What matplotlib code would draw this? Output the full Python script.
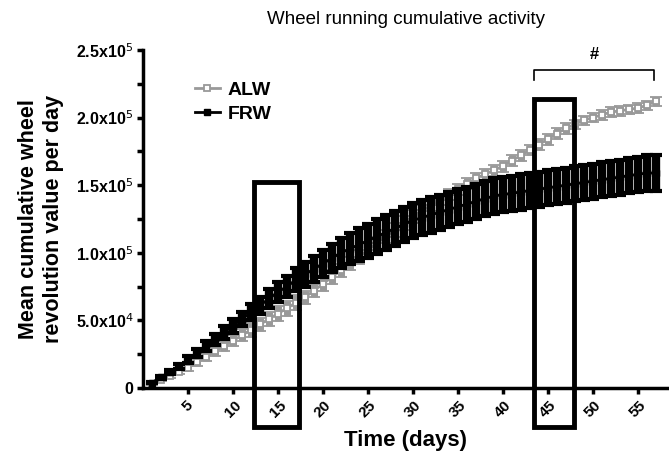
import numpy as np
import matplotlib.pyplot as plt
from matplotlib.patches import Rectangle

plt.rcParams['font.family'] = ['Liberation Sans', 'DejaVu Sans']

days = list(range(1, 58))

alw_mean = [3, 6, 9, 12, 15, 19, 23, 27, 31, 35, 39, 43, 47, 51, 55, 59, 63, 67, 72, 77,
            82, 87, 92, 97, 102, 107, 112, 117, 122, 127, 131, 135, 139, 143, 147, 151, 155, 158, 161, 164,
            168, 172, 176, 180, 184, 188, 192, 195, 198, 200, 202, 204, 205, 206, 207, 209, 212]
alw_sem = [0.5, 1, 1.5, 2, 2.5, 3, 3, 3.5, 4, 4, 4.5, 5, 5, 5.5, 5.5, 5.5, 5.5, 5, 5, 5,
           5, 5, 5, 5, 5, 5, 5, 5, 5, 5, 4, 4, 4, 4, 4, 4, 4, 4, 4, 4,
           4, 4, 4, 4, 4, 4, 4, 3.5, 3.5, 3.5, 3.5, 3.5, 3.5, 3.5, 3.5, 3.5, 3.5]

frw_mean = [4, 8, 12, 16, 21, 26, 31, 36, 41, 46, 51, 56, 61, 66, 71, 75, 80, 84, 88, 92,
            96, 100, 103, 106, 109, 112, 115, 118, 121, 124, 126, 128, 130, 132, 134, 136, 138, 140, 142, 143,
            144, 145, 146, 147, 148, 149, 150, 151, 152, 153, 154, 155, 156, 157, 158, 159, 159]
frw_sem = [0.5, 1, 1.5, 2, 2.5, 3, 3.5, 4, 4.5, 5, 5.5, 6, 6.5, 7, 7.5, 8, 8.5, 9, 9.5, 10,
           10.5, 11, 11.5, 12, 12.5, 13, 13, 13, 13, 13, 13, 13, 13, 13, 13, 13, 13, 13, 13, 13,
           13, 13, 13, 13, 13, 13, 13, 13, 13, 13, 13, 13, 13, 13, 13, 13, 13]

xticks = [5, 10, 15, 20, 25, 30, 35, 40, 45, 50, 55]
yticks = [0, 50000, 100000, 150000, 200000, 250000]
ytick_labels = ['0', r'5.0x10$^4$', r'1.0x10$^5$', r'1.5x10$^5$', r'2.0x10$^5$', r'2.5x10$^5$']

# highlighted windows (days) and significance bracket
boxes = [(12.4, 17.3, -29000, 152000), (43.5, 47.9, -29000, 214000)]
bracket = (43.5, 56.8, 235000)

fig = plt.figure(figsize=(6.69, 4.57), dpi=100)
ax = fig.add_axes([143 / 669, 69 / 457, 526 / 669, 338 / 457])

x = np.array(days)
alw = ax.errorbar(x, np.array(alw_mean) * 1000, yerr=np.array(alw_sem) * 1000,
                  color='#999999', ecolor='#999999', marker='s', markersize=4.5,
                  markerfacecolor='white', markeredgecolor='#999999', markeredgewidth=1.3,
                  lw=2, elinewidth=5, capsize=4.5, capthick=2.5, zorder=2)
frw = ax.errorbar(x, np.array(frw_mean) * 1000, yerr=np.array(frw_sem) * 1000,
                  color='black', ecolor='black', marker='s', markersize=4.5,
                  markerfacecolor='black', markeredgecolor='black',
                  lw=2, elinewidth=6, capsize=4.5, capthick=3, zorder=3)

for x0, x1, y0, y1 in boxes:
    ax.add_patch(Rectangle((x0, y0), x1 - x0, y1 - y0, fill=False, ec='black',
                           lw=3.5, clip_on=False, zorder=5))

bx0, bx1, by = bracket
ax.plot([bx0, bx0, bx1, bx1], [by - 7000, by, by, by - 7000], color='black', lw=1.2,
        clip_on=False)
ax.text((bx0 + bx1) / 2, by + 6000, '#', ha='center', va='bottom', fontsize=12,
        fontweight='bold')

ax.set_xlim(0, 58.5)
ax.set_ylim(0, 250000)
ax.set_xticks(xticks)
ax.set_xticklabels([str(t) for t in xticks], rotation=45, ha='center', va='top',
                   fontsize=11, fontweight='bold')
ax.set_yticks(yticks)
ax.set_yticklabels(ytick_labels, fontsize=11.5, fontweight='bold')
ax.set_yticks([25000, 75000, 125000, 175000, 225000], minor=True)

for s in ['top', 'right']:
    ax.spines[s].set_visible(False)
for s in ['left', 'bottom']:
    ax.spines[s].set_linewidth(2.5)
ax.tick_params(which='both', direction='out', length=4, width=2.5, pad=3)

ax.set_xlabel('Time (days)', fontsize=16, fontweight='bold', va='top')
ax.xaxis.set_label_coords(0.5, -0.125)
ax.set_ylabel('Mean cumulative wheel\nrevolution value per day', fontsize=15.5,
              fontweight='bold', linespacing=1.25)
ax.yaxis.set_label_coords(-0.15, 0.5)
fig.text(0.607, 1 - 20 / 457, 'Wheel running cumulative activity', ha='center',
         va='center', fontsize=13.5)

# legend shows only the line + marker of each series
ax.legend([alw.lines[0], frw.lines[0]], ['ALW', 'FRW'], loc='upper left',
          bbox_to_anchor=(0.065, 0.96), frameon=False,
          prop={'weight': 'bold', 'size': 14}, handlelength=1.3,
          handletextpad=0.4, labelspacing=0.35)

fig.savefig('out.png', dpi=100)
